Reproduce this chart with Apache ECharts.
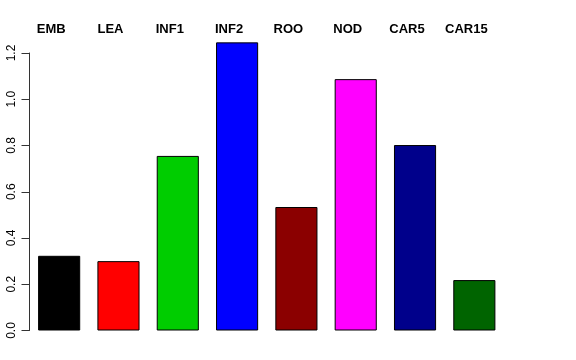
<!DOCTYPE html>
<html>
<head>
<meta charset="utf-8">
<script src="https://cdn.jsdelivr.net/npm/echarts@6/dist/echarts.min.js"></script>
<style>html,body{margin:0;padding:0;background:#fff}#c{width:576px;height:360px}</style>
</head>
<body>
<div id="c"></div>
<script>
var categories = ['EMB', 'LEA', 'INF1', 'INF2', 'ROO', 'NOD', 'CAR5', 'CAR15'];
var values = [0.323, 0.300, 0.755, 1.246, 0.534, 1.087, 0.802, 0.218];
var barColors = ['#000000', '#FF0000', '#00CD00', '#0000FF', '#8B0000', '#FF00FF', '#00008B', '#006400'];
var yTicks = [0, 0.2, 0.4, 0.6, 0.8, 1.0, 1.2];

var chart = echarts.init(document.getElementById('c'), null, {renderer: 'canvas'});
chart.setOption({
  animation: false,
  backgroundColor: '#ffffff',
  grid: {left: 29.5, right: 72, top: 53, bottom: 29.5, containLabel: false},
  xAxis: {
    type: 'category',
    data: categories,
    position: 'top',
    axisLine: {show: false},
    axisTick: {show: false},
    axisLabel: {
      margin: 17,
      fontFamily: 'Liberation Sans, Arial, sans-serif',
      fontWeight: 'bold',
      fontSize: 13,
      color: '#000',
      padding: [0, 16, 0, 0]
    }
  },
  yAxis: {
    type: 'value',
    min: yTicks[0],
    max: yTicks[yTicks.length - 1],
    interval: 0.2,
    splitLine: {show: false},
    axisLine: {show: true, lineStyle: {color: '#333', width: 1}},
    axisTick: {show: true, length: 8, lineStyle: {color: '#333'}},
    axisLabel: {
      rotate: 90,
      margin: 12,
      fontFamily: 'Liberation Sans, Arial, sans-serif',
      fontSize: 12,
      color: '#000',
      formatter: function (v) { return v.toFixed(1); }
    }
  },
  series: [{
    type: 'bar',
    clip: false,
    barCategoryGap: '29%',
    data: values.map(function (v, i) {
      return {value: v, itemStyle: {color: barColors[i]}};
    }),
    itemStyle: {borderColor: '#000', borderWidth: 1}
  }]
});
</script>
</body>
</html>
